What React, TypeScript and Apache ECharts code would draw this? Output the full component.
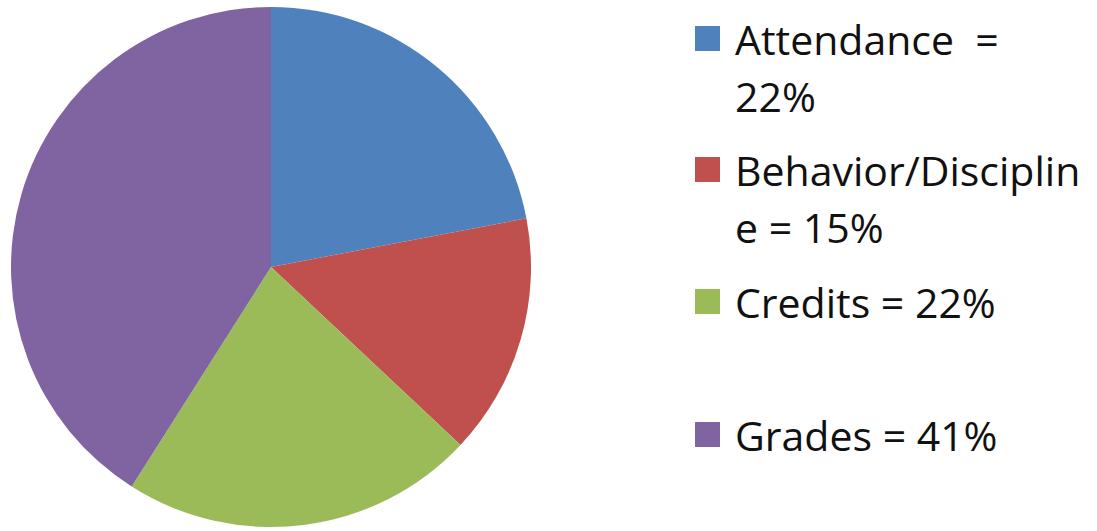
import React, { useEffect, useRef } from "react";
import * as echarts from "echarts";

const categories = ["Attendance", "Behavior/Discipline", "Credits", "Grades"];
const values = [22, 15, 22, 41];
const legendLabels = ["Attendance  =\n22%", "Behavior/Disciplin\ne = 15%", "Credits = 22%", "Grades = 41%"];
const colors = ["#4F81BD", "#C0504D", "#9BBB59", "#8064A2"];
const legendTops = [-47, 84, 273, 406];

export default function App() {
  const ref = useRef<HTMLDivElement>(null);
  useEffect(() => {
    if (!ref.current) return;
    const chart = echarts.init(ref.current, undefined, { renderer: "svg" });
    const legends = categories.map((name, i) => {
      const twoLine = legendLabels[i].includes("\n");
      return {
        show: true,
        orient: "vertical",
        left: 695,
        top: legendTops[i],
        padding: 0,
        itemWidth: 25,
        itemHeight: 25,
        icon: "rect",
        selectedMode: false,
        data: [name],
        formatter: () => (twoLine ? " \n" : "") + legendLabels[i],
        textStyle: {
          fontFamily: "'Open Sans', 'Liberation Sans', sans-serif",
          fontSize: 41,
          lineHeight: 57,
          color: "#111",
          padding: [0, 0, 0, 10],
        },
      };
    });
    chart.setOption({
      animation: false,
      color: colors,
      legend: legends,
      series: [
        {
          type: "pie",
          center: [271, 267],
          radius: 260,
          startAngle: 90,
          clockwise: true,
          label: { show: false },
          labelLine: { show: false },
          emphasis: { disabled: true },
          itemStyle: { borderWidth: 0 },
          data: categories.map((name, i) => ({ name, value: values[i] })),
        },
      ],
    });
    return () => chart.dispose();
  }, []);
  return (
    <div
      ref={ref}
      style={{ position: "fixed", left: 0, top: 0, width: 1097, height: 531, background: "#fff" }}
    />
  );
}
